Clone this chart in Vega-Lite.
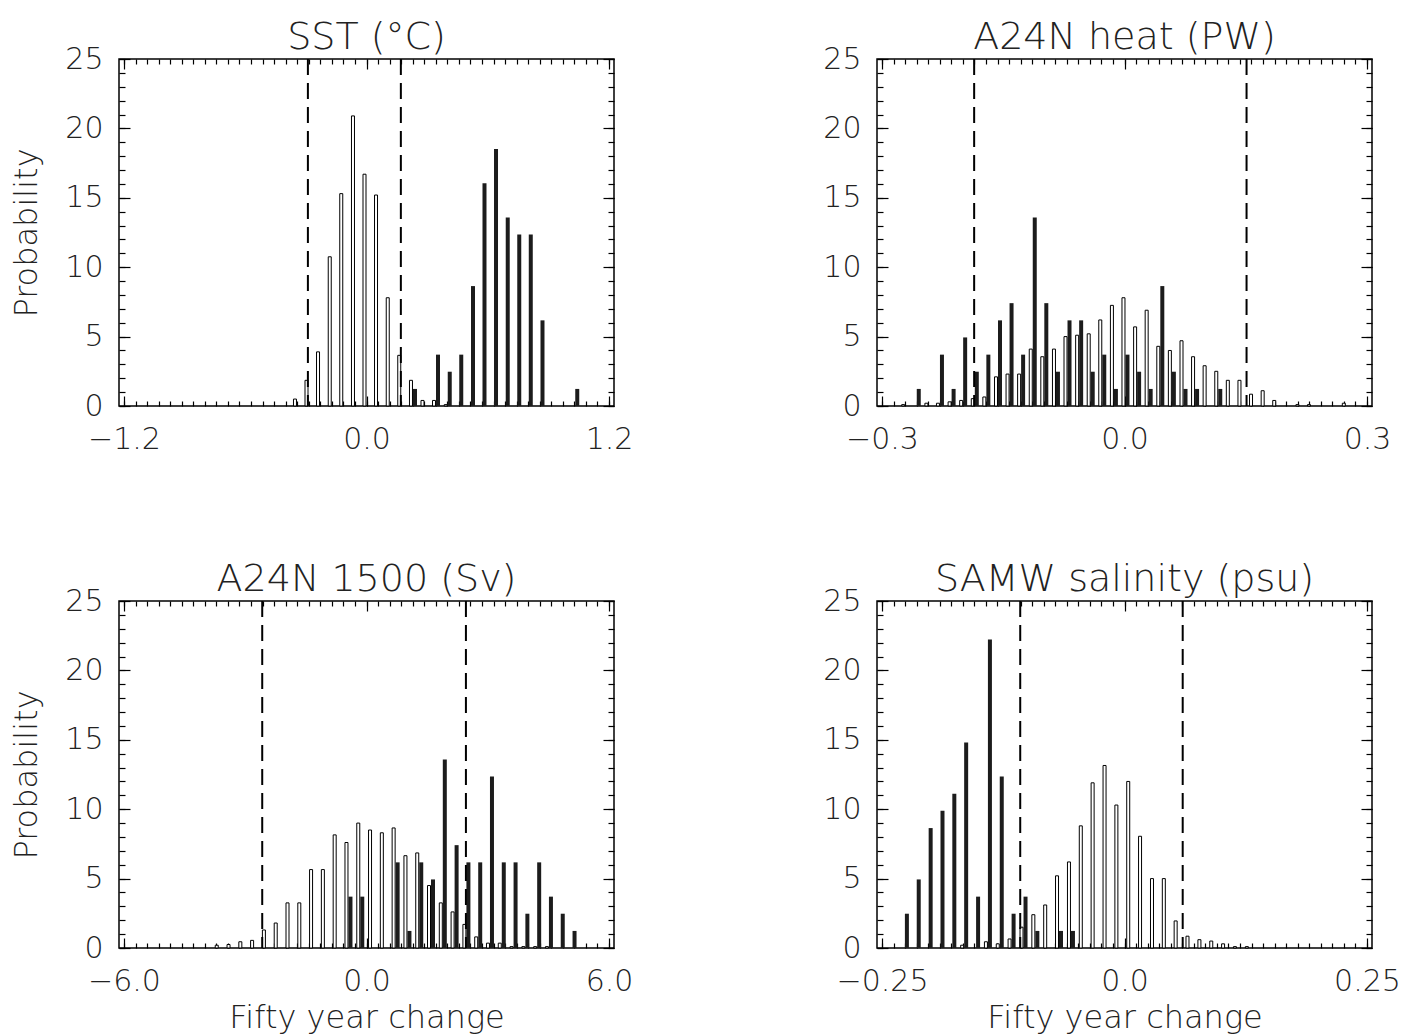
{
  "$schema": "https://vega.github.io/schema/vega-lite/v6.json",
  "autosize": {"type": "pad"},
  "padding": {"left": 10, "top": 18, "right": 5, "bottom": 0},
  "background": "white",
  "config": {
    "font": "DejaVu Sans",
    "view": {"stroke": "black", "strokeWidth": 1.5},
    "axis": {"domain": false, "grid": false, "tickColor": "black", "tickWidth": 1.2, "labelFont": "DejaVu Sans", "labelFontSize": 30, "labelFontWeight": 200, "labelColor": "#222", "titleFont": "DejaVu Sans", "titleFontSize": 32, "titleFontWeight": 200, "titleColor": "#222", "labelFlush": false, "labelOverlap": false},
    "title": {"font": "DejaVu Sans", "fontSize": 38, "fontWeight": 200, "color": "#222", "offset": -13, "anchor": "middle", "frame": "group"}
  },
  "datasets": {
    "sst": [
      {"x": -0.344, "kind": "control", "p": 0.5}, {"x": -0.287, "kind": "control", "p": 1.85}, {"x": -0.230, "kind": "control", "p": 3.9}, {"x": -0.172, "kind": "control", "p": 10.75}, {"x": -0.115, "kind": "control", "p": 15.3}, {"x": -0.057, "kind": "control", "p": 20.9}, {"x": 0.000, "kind": "control", "p": 16.7}, {"x": 0.057, "kind": "control", "p": 15.2}, {"x": 0.115, "kind": "control", "p": 7.8}, {"x": 0.172, "kind": "control", "p": 3.65}, {"x": 0.230, "kind": "control", "p": 1.85}, {"x": 0.287, "kind": "control", "p": 0.4}, {"x": 0.344, "kind": "control", "p": 0.4}, {"x": 0.402, "kind": "control", "p": 0.1},
      {"x": 0.230, "kind": "forced", "p": 1.23}, {"x": 0.344, "kind": "forced", "p": 3.70}, {"x": 0.402, "kind": "forced", "p": 2.47}, {"x": 0.459, "kind": "forced", "p": 3.70}, {"x": 0.517, "kind": "forced", "p": 8.64}, {"x": 0.574, "kind": "forced", "p": 16.05}, {"x": 0.631, "kind": "forced", "p": 18.52}, {"x": 0.689, "kind": "forced", "p": 13.58}, {"x": 0.746, "kind": "forced", "p": 12.35}, {"x": 0.803, "kind": "forced", "p": 12.35}, {"x": 0.861, "kind": "forced", "p": 6.17}, {"x": 1.033, "kind": "forced", "p": 1.23}
    ],
    "sst_lim": [{"x": -0.29}, {"x": 0.17}],
    "heat": [
      {"x": -0.2713, "kind": "control", "p": 0.1}, {"x": -0.2426, "kind": "control", "p": 0.2}, {"x": -0.2283, "kind": "control", "p": 0.2}, {"x": -0.2139, "kind": "control", "p": 0.3}, {"x": -0.1996, "kind": "control", "p": 0.4}, {"x": -0.1852, "kind": "control", "p": 0.53}, {"x": -0.1709, "kind": "control", "p": 0.65}, {"x": -0.1565, "kind": "control", "p": 2.1}, {"x": -0.1422, "kind": "control", "p": 2.3}, {"x": -0.1279, "kind": "control", "p": 2.3}, {"x": -0.1135, "kind": "control", "p": 4.1}, {"x": -0.0992, "kind": "control", "p": 3.55}, {"x": -0.0848, "kind": "control", "p": 4.1}, {"x": -0.0705, "kind": "control", "p": 5.0}, {"x": -0.0561, "kind": "control", "p": 5.1}, {"x": -0.0418, "kind": "control", "p": 5.2}, {"x": -0.0275, "kind": "control", "p": 6.2}, {"x": -0.0131, "kind": "control", "p": 7.25}, {"x": 0.0012, "kind": "control", "p": 7.8}, {"x": 0.0156, "kind": "control", "p": 5.7}, {"x": 0.0299, "kind": "control", "p": 6.9}, {"x": 0.0443, "kind": "control", "p": 4.3}, {"x": 0.0586, "kind": "control", "p": 4.0}, {"x": 0.0730, "kind": "control", "p": 4.7}, {"x": 0.0873, "kind": "control", "p": 3.55}, {"x": 0.1016, "kind": "control", "p": 2.9}, {"x": 0.1160, "kind": "control", "p": 2.5}, {"x": 0.1303, "kind": "control", "p": 1.85}, {"x": 0.1447, "kind": "control", "p": 1.85}, {"x": 0.1590, "kind": "control", "p": 0.85}, {"x": 0.1734, "kind": "control", "p": 1.1}, {"x": 0.1877, "kind": "control", "p": 0.4}, {"x": 0.2164, "kind": "control", "p": 0.1}, {"x": 0.2307, "kind": "control", "p": 0.1}, {"x": 0.2738, "kind": "control", "p": 0.2},
      {"x": -0.2570, "kind": "forced", "p": 1.23}, {"x": -0.2283, "kind": "forced", "p": 3.70}, {"x": -0.2139, "kind": "forced", "p": 1.23}, {"x": -0.1996, "kind": "forced", "p": 4.94}, {"x": -0.1852, "kind": "forced", "p": 2.47}, {"x": -0.1709, "kind": "forced", "p": 3.70}, {"x": -0.1565, "kind": "forced", "p": 6.17}, {"x": -0.1422, "kind": "forced", "p": 7.41}, {"x": -0.1279, "kind": "forced", "p": 3.70}, {"x": -0.1135, "kind": "forced", "p": 13.58}, {"x": -0.0992, "kind": "forced", "p": 7.41}, {"x": -0.0848, "kind": "forced", "p": 2.47}, {"x": -0.0705, "kind": "forced", "p": 6.17}, {"x": -0.0561, "kind": "forced", "p": 6.17}, {"x": -0.0418, "kind": "forced", "p": 2.47}, {"x": -0.0275, "kind": "forced", "p": 3.70}, {"x": -0.0131, "kind": "forced", "p": 1.23}, {"x": 0.0012, "kind": "forced", "p": 3.70}, {"x": 0.0156, "kind": "forced", "p": 2.47}, {"x": 0.0299, "kind": "forced", "p": 1.23}, {"x": 0.0443, "kind": "forced", "p": 8.64}, {"x": 0.0586, "kind": "forced", "p": 2.47}, {"x": 0.0730, "kind": "forced", "p": 1.23}, {"x": 0.0873, "kind": "forced", "p": 1.23}, {"x": 0.1160, "kind": "forced", "p": 1.23}
    ],
    "heat_lim": [{"x": -0.186}, {"x": 0.151}],
    "a1500": [
      {"x": -3.656, "kind": "control", "p": 0.2}, {"x": -3.364, "kind": "control", "p": 0.25}, {"x": -3.072, "kind": "control", "p": 0.45}, {"x": -2.781, "kind": "control", "p": 0.55}, {"x": -2.489, "kind": "control", "p": 1.3}, {"x": -2.197, "kind": "control", "p": 1.8}, {"x": -1.905, "kind": "control", "p": 3.25}, {"x": -1.613, "kind": "control", "p": 3.25}, {"x": -1.322, "kind": "control", "p": 5.65}, {"x": -1.030, "kind": "control", "p": 5.65}, {"x": -0.738, "kind": "control", "p": 8.15}, {"x": -0.446, "kind": "control", "p": 7.6}, {"x": -0.154, "kind": "control", "p": 9.0}, {"x": 0.137, "kind": "control", "p": 8.5}, {"x": 0.429, "kind": "control", "p": 8.3}, {"x": 0.721, "kind": "control", "p": 8.65}, {"x": 1.013, "kind": "control", "p": 6.65}, {"x": 1.305, "kind": "control", "p": 6.85}, {"x": 1.596, "kind": "control", "p": 4.5}, {"x": 1.888, "kind": "control", "p": 3.25}, {"x": 2.180, "kind": "control", "p": 2.6}, {"x": 2.472, "kind": "control", "p": 1.7}, {"x": 2.764, "kind": "control", "p": 0.8}, {"x": 3.055, "kind": "control", "p": 0.35}, {"x": 3.347, "kind": "control", "p": 0.35}, {"x": 3.639, "kind": "control", "p": 0.1}, {"x": 3.931, "kind": "control", "p": 0.1}, {"x": 4.223, "kind": "control", "p": 0.1}, {"x": 4.514, "kind": "control", "p": 0.1},
      {"x": -0.446, "kind": "forced", "p": 3.70}, {"x": -0.154, "kind": "forced", "p": 3.70}, {"x": 0.721, "kind": "forced", "p": 6.17}, {"x": 1.013, "kind": "forced", "p": 1.23}, {"x": 1.305, "kind": "forced", "p": 6.17}, {"x": 1.596, "kind": "forced", "p": 4.94}, {"x": 1.888, "kind": "forced", "p": 13.58}, {"x": 2.180, "kind": "forced", "p": 7.41}, {"x": 2.472, "kind": "forced", "p": 6.17}, {"x": 2.764, "kind": "forced", "p": 6.17}, {"x": 3.055, "kind": "forced", "p": 12.35}, {"x": 3.347, "kind": "forced", "p": 6.17}, {"x": 3.639, "kind": "forced", "p": 6.17}, {"x": 3.931, "kind": "forced", "p": 2.47}, {"x": 4.223, "kind": "forced", "p": 6.17}, {"x": 4.514, "kind": "forced", "p": 3.70}, {"x": 4.806, "kind": "forced", "p": 2.47}, {"x": 5.098, "kind": "forced", "p": 1.23}
    ],
    "a1500_lim": [{"x": -2.58}, {"x": 2.46}],
    "samw": [
      {"x": -0.1653, "kind": "control", "p": 0.2}, {"x": -0.1408, "kind": "control", "p": 0.45}, {"x": -0.1286, "kind": "control", "p": 0.3}, {"x": -0.1164, "kind": "control", "p": 0.65}, {"x": -0.1041, "kind": "control", "p": 1.5}, {"x": -0.0919, "kind": "control", "p": 2.4}, {"x": -0.0797, "kind": "control", "p": 3.1}, {"x": -0.0675, "kind": "control", "p": 5.2}, {"x": -0.0552, "kind": "control", "p": 6.2}, {"x": -0.0430, "kind": "control", "p": 8.8}, {"x": -0.0308, "kind": "control", "p": 11.9}, {"x": -0.0185, "kind": "control", "p": 13.15}, {"x": -0.0063, "kind": "control", "p": 10.3}, {"x": 0.0059, "kind": "control", "p": 12.0}, {"x": 0.0181, "kind": "control", "p": 8.05}, {"x": 0.0304, "kind": "control", "p": 5.0}, {"x": 0.0426, "kind": "control", "p": 5.0}, {"x": 0.0548, "kind": "control", "p": 1.95}, {"x": 0.0670, "kind": "control", "p": 0.85}, {"x": 0.0793, "kind": "control", "p": 0.6}, {"x": 0.0915, "kind": "control", "p": 0.5}, {"x": 0.1037, "kind": "control", "p": 0.3}, {"x": 0.1159, "kind": "control", "p": 0.1}, {"x": 0.1282, "kind": "control", "p": 0.1},
      {"x": -0.2264, "kind": "forced", "p": 2.47}, {"x": -0.2142, "kind": "forced", "p": 4.94}, {"x": -0.2019, "kind": "forced", "p": 8.64}, {"x": -0.1897, "kind": "forced", "p": 9.88}, {"x": -0.1775, "kind": "forced", "p": 11.11}, {"x": -0.1653, "kind": "forced", "p": 14.81}, {"x": -0.1530, "kind": "forced", "p": 3.70}, {"x": -0.1408, "kind": "forced", "p": 22.22}, {"x": -0.1286, "kind": "forced", "p": 12.35}, {"x": -0.1164, "kind": "forced", "p": 2.47}, {"x": -0.1041, "kind": "forced", "p": 3.70}, {"x": -0.0919, "kind": "forced", "p": 1.23}, {"x": -0.0675, "kind": "forced", "p": 1.23}, {"x": -0.0552, "kind": "forced", "p": 1.23}
    ],
    "samw_lim": [{"x": -0.1075}, {"x": 0.06}]
  },
  "columns": 2,
  "bounds": "flush",
  "spacing": {"row": 195, "column": 263},
  "concat": [
    {
      "width": 495, "height": 347,
      "title": "SST (°C)",
      "data": {"name": "sst"},
      "resolve": {"axis": {"x": "independent", "y": "independent"}},
      "layer": [
        {"transform": [{"filter": "datum.kind === 'forced'"}],
         "mark": {"type": "bar", "width": 4, "xOffset": 2, "fill": "#1c1c1c"},
         "encoding": {
           "x": {"field": "x", "type": "quantitative", "scale": {"domain": [-1.2, 1.2], "nice": false, "zero": false}, "axis": {"orient": "bottom", "values": [-1.2, 0, 1.2], "format": ".1f", "tickSize": -10, "labelPadding": 28, "title": null}},
           "y": {"field": "p", "type": "quantitative", "scale": {"domain": [0, 25], "nice": false}, "axis": {"orient": "left", "values": [0, 5, 10, 15, 20, 25], "tickSize": -11, "labelPadding": 27, "title": "Probability", "titlePadding": 21}}
         }},
        {"transform": [{"filter": "datum.kind === 'control'"}],
         "mark": {"type": "bar", "width": 3, "xOffset": -2, "fill": "white", "stroke": "black", "strokeWidth": 1},
         "encoding": {
           "x": {"field": "x", "type": "quantitative", "axis": {"orient": "bottom", "values": [-1.2, -1.1429, -1.0857, -1.0286, -0.9714, -0.9143, -0.8571, -0.8, -0.7429, -0.6857, -0.6286, -0.5714, -0.5143, -0.4571, -0.4, -0.3429, -0.2857, -0.2286, -0.1714, -0.1143, -0.0571, 0, 0.0571, 0.1143, 0.1714, 0.2286, 0.2857, 0.3429, 0.4, 0.4571, 0.5143, 0.5714, 0.6286, 0.6857, 0.7429, 0.8, 0.8571, 0.9143, 0.9714, 1.0286, 1.0857, 1.1429, 1.2], "tickSize": -5, "labels": false, "title": null}},
           "y": {"field": "p", "type": "quantitative", "axis": {"orient": "left", "values": [0,1,2,3,4,5,6,7,8,9,10,11,12,13,14,15,16,17,18,19,20,21,22,23,24,25], "tickSize": -6, "labels": false, "title": null}}
         }},
        {"data": {"name": "sst_lim"},
         "mark": {"type": "rule", "strokeDash": [16, 8], "strokeWidth": 2, "color": "black"},
         "encoding": {
           "x": {"field": "x", "type": "quantitative", "axis": {"orient": "top", "values": [-1.2, 0, 1.2], "tickSize": -10, "labels": false, "title": null}}
         }},
        {"transform": [{"filter": "datum.kind === 'control'"}],
         "mark": {"type": "point", "opacity": 0},
         "encoding": {
           "x": {"field": "x", "type": "quantitative", "axis": {"orient": "top", "values": [-1.2, -1.1429, -1.0857, -1.0286, -0.9714, -0.9143, -0.8571, -0.8, -0.7429, -0.6857, -0.6286, -0.5714, -0.5143, -0.4571, -0.4, -0.3429, -0.2857, -0.2286, -0.1714, -0.1143, -0.0571, 0, 0.0571, 0.1143, 0.1714, 0.2286, 0.2857, 0.3429, 0.4, 0.4571, 0.5143, 0.5714, 0.6286, 0.6857, 0.7429, 0.8, 0.8571, 0.9143, 0.9714, 1.0286, 1.0857, 1.1429, 1.2], "tickSize": -5, "labels": false, "title": null}},
           "y": {"field": "p", "type": "quantitative", "axis": {"orient": "right", "values": [0, 5, 10, 15, 20, 25], "tickSize": -11, "labels": false, "title": null}}
         }},
        {"transform": [{"filter": "datum.kind === 'control'"}],
         "mark": {"type": "point", "opacity": 0},
         "encoding": {
           "x": {"field": "x", "type": "quantitative", "axis": null},
           "y": {"field": "p", "type": "quantitative", "axis": {"orient": "right", "values": [0,1,2,3,4,5,6,7,8,9,10,11,12,13,14,15,16,17,18,19,20,21,22,23,24,25], "tickSize": -6, "labels": false, "title": null}}
         }}
      ]
    },
    {
      "width": 495, "height": 347,
      "title": "A24N heat (PW)",
      "data": {"name": "heat"},
      "resolve": {"axis": {"x": "independent", "y": "independent"}},
      "layer": [
        {"transform": [{"filter": "datum.kind === 'forced'"}],
         "mark": {"type": "bar", "width": 4, "xOffset": 2, "fill": "#1c1c1c"},
         "encoding": {
           "x": {"field": "x", "type": "quantitative", "scale": {"domain": [-0.3, 0.3], "nice": false, "zero": false}, "axis": {"orient": "bottom", "values": [-0.3, 0, 0.3], "format": ".1f", "tickSize": -10, "labelPadding": 28, "title": null}},
           "y": {"field": "p", "type": "quantitative", "scale": {"domain": [0, 25], "nice": false}, "axis": {"orient": "left", "values": [0, 5, 10, 15, 20, 25], "tickSize": -11, "labelPadding": 27, "title": null}}
         }},
        {"transform": [{"filter": "datum.kind === 'control'"}],
         "mark": {"type": "bar", "width": 3, "xOffset": -2, "fill": "white", "stroke": "black", "strokeWidth": 1},
         "encoding": {
           "x": {"field": "x", "type": "quantitative", "axis": {"orient": "bottom", "values": [-0.3, -0.2857, -0.2714, -0.2571, -0.2429, -0.2286, -0.2143, -0.2, -0.1857, -0.1714, -0.1571, -0.1429, -0.1286, -0.1143, -0.1, -0.0857, -0.0714, -0.0571, -0.0429, -0.0286, -0.0143, 0, 0.0143, 0.0286, 0.0429, 0.0571, 0.0714, 0.0857, 0.1, 0.1143, 0.1286, 0.1429, 0.1571, 0.1714, 0.1857, 0.2, 0.2143, 0.2286, 0.2429, 0.2571, 0.2714, 0.2857, 0.3], "tickSize": -5, "labels": false, "title": null}},
           "y": {"field": "p", "type": "quantitative", "axis": {"orient": "left", "values": [0,1,2,3,4,5,6,7,8,9,10,11,12,13,14,15,16,17,18,19,20,21,22,23,24,25], "tickSize": -6, "labels": false, "title": null}}
         }},
        {"data": {"name": "heat_lim"},
         "mark": {"type": "rule", "strokeDash": [16, 8], "strokeWidth": 2, "color": "black"},
         "encoding": {
           "x": {"field": "x", "type": "quantitative", "axis": {"orient": "top", "values": [-0.3, 0, 0.3], "tickSize": -10, "labels": false, "title": null}}
         }},
        {"transform": [{"filter": "datum.kind === 'control'"}],
         "mark": {"type": "point", "opacity": 0},
         "encoding": {
           "x": {"field": "x", "type": "quantitative", "axis": {"orient": "top", "values": [-0.3, -0.2857, -0.2714, -0.2571, -0.2429, -0.2286, -0.2143, -0.2, -0.1857, -0.1714, -0.1571, -0.1429, -0.1286, -0.1143, -0.1, -0.0857, -0.0714, -0.0571, -0.0429, -0.0286, -0.0143, 0, 0.0143, 0.0286, 0.0429, 0.0571, 0.0714, 0.0857, 0.1, 0.1143, 0.1286, 0.1429, 0.1571, 0.1714, 0.1857, 0.2, 0.2143, 0.2286, 0.2429, 0.2571, 0.2714, 0.2857, 0.3], "tickSize": -5, "labels": false, "title": null}},
           "y": {"field": "p", "type": "quantitative", "axis": {"orient": "right", "values": [0, 5, 10, 15, 20, 25], "tickSize": -11, "labels": false, "title": null}}
         }},
        {"transform": [{"filter": "datum.kind === 'control'"}],
         "mark": {"type": "point", "opacity": 0},
         "encoding": {
           "x": {"field": "x", "type": "quantitative", "axis": null},
           "y": {"field": "p", "type": "quantitative", "axis": {"orient": "right", "values": [0,1,2,3,4,5,6,7,8,9,10,11,12,13,14,15,16,17,18,19,20,21,22,23,24,25], "tickSize": -6, "labels": false, "title": null}}
         }}
      ]
    },
    {
      "width": 495, "height": 347,
      "title": "A24N 1500 (Sv)",
      "data": {"name": "a1500"},
      "resolve": {"axis": {"x": "independent", "y": "independent"}},
      "layer": [
        {"transform": [{"filter": "datum.kind === 'forced'"}],
         "mark": {"type": "bar", "width": 4, "xOffset": 2, "fill": "#1c1c1c"},
         "encoding": {
           "x": {"field": "x", "type": "quantitative", "scale": {"domain": [-6, 6], "nice": false, "zero": false}, "axis": {"orient": "bottom", "values": [-6, 0, 6], "format": ".1f", "tickSize": -10, "labelPadding": 28, "title": "Fifty year change", "titlePadding": 6}},
           "y": {"field": "p", "type": "quantitative", "scale": {"domain": [0, 25], "nice": false}, "axis": {"orient": "left", "values": [0, 5, 10, 15, 20, 25], "tickSize": -11, "labelPadding": 27, "title": "Probability", "titlePadding": 21}}
         }},
        {"transform": [{"filter": "datum.kind === 'control'"}],
         "mark": {"type": "bar", "width": 3, "xOffset": -2, "fill": "white", "stroke": "black", "strokeWidth": 1},
         "encoding": {
           "x": {"field": "x", "type": "quantitative", "axis": {"orient": "bottom", "values": [-6, -5.7143, -5.4286, -5.1429, -4.8571, -4.5714, -4.2857, -4, -3.7143, -3.4286, -3.1429, -2.8571, -2.5714, -2.2857, -2, -1.7143, -1.4286, -1.1429, -0.8571, -0.5714, -0.2857, 0, 0.2857, 0.5714, 0.8571, 1.1429, 1.4286, 1.7143, 2, 2.2857, 2.5714, 2.8571, 3.1429, 3.4286, 3.7143, 4, 4.2857, 4.5714, 4.8571, 5.1429, 5.4286, 5.7143, 6], "tickSize": -5, "labels": false, "title": null}},
           "y": {"field": "p", "type": "quantitative", "axis": {"orient": "left", "values": [0,1,2,3,4,5,6,7,8,9,10,11,12,13,14,15,16,17,18,19,20,21,22,23,24,25], "tickSize": -6, "labels": false, "title": null}}
         }},
        {"data": {"name": "a1500_lim"},
         "mark": {"type": "rule", "strokeDash": [16, 8], "strokeWidth": 2, "color": "black"},
         "encoding": {
           "x": {"field": "x", "type": "quantitative", "axis": {"orient": "top", "values": [-6, 0, 6], "tickSize": -10, "labels": false, "title": null}}
         }},
        {"transform": [{"filter": "datum.kind === 'control'"}],
         "mark": {"type": "point", "opacity": 0},
         "encoding": {
           "x": {"field": "x", "type": "quantitative", "axis": {"orient": "top", "values": [-6, -5.7143, -5.4286, -5.1429, -4.8571, -4.5714, -4.2857, -4, -3.7143, -3.4286, -3.1429, -2.8571, -2.5714, -2.2857, -2, -1.7143, -1.4286, -1.1429, -0.8571, -0.5714, -0.2857, 0, 0.2857, 0.5714, 0.8571, 1.1429, 1.4286, 1.7143, 2, 2.2857, 2.5714, 2.8571, 3.1429, 3.4286, 3.7143, 4, 4.2857, 4.5714, 4.8571, 5.1429, 5.4286, 5.7143, 6], "tickSize": -5, "labels": false, "title": null}},
           "y": {"field": "p", "type": "quantitative", "axis": {"orient": "right", "values": [0, 5, 10, 15, 20, 25], "tickSize": -11, "labels": false, "title": null}}
         }},
        {"transform": [{"filter": "datum.kind === 'control'"}],
         "mark": {"type": "point", "opacity": 0},
         "encoding": {
           "x": {"field": "x", "type": "quantitative", "axis": null},
           "y": {"field": "p", "type": "quantitative", "axis": {"orient": "right", "values": [0,1,2,3,4,5,6,7,8,9,10,11,12,13,14,15,16,17,18,19,20,21,22,23,24,25], "tickSize": -6, "labels": false, "title": null}}
         }}
      ]
    },
    {
      "width": 495, "height": 347,
      "title": "SAMW salinity (psu)",
      "data": {"name": "samw"},
      "resolve": {"axis": {"x": "independent", "y": "independent"}},
      "layer": [
        {"transform": [{"filter": "datum.kind === 'forced'"}],
         "mark": {"type": "bar", "width": 4, "xOffset": 2, "fill": "#1c1c1c"},
         "encoding": {
           "x": {"field": "x", "type": "quantitative", "scale": {"domain": [-0.25, 0.25], "nice": false, "zero": false}, "axis": {"orient": "bottom", "values": [-0.25, 0, 0.25], "labelExpr": "datum.value === 0 ? '0.0' : format(datum.value, '.2f')", "tickSize": -10, "labelPadding": 28, "title": "Fifty year change", "titlePadding": 6}},
           "y": {"field": "p", "type": "quantitative", "scale": {"domain": [0, 25], "nice": false}, "axis": {"orient": "left", "values": [0, 5, 10, 15, 20, 25], "tickSize": -11, "labelPadding": 27, "title": null}}
         }},
        {"transform": [{"filter": "datum.kind === 'control'"}],
         "mark": {"type": "bar", "width": 3, "xOffset": -2, "fill": "white", "stroke": "black", "strokeWidth": 1},
         "encoding": {
           "x": {"field": "x", "type": "quantitative", "axis": {"orient": "bottom", "values": [-0.25, -0.2381, -0.2262, -0.2143, -0.2024, -0.1905, -0.1786, -0.1667, -0.1548, -0.1429, -0.131, -0.119, -0.1071, -0.0952, -0.0833, -0.0714, -0.0595, -0.0476, -0.0357, -0.0238, -0.0119, 0, 0.0119, 0.0238, 0.0357, 0.0476, 0.0595, 0.0714, 0.0833, 0.0952, 0.1071, 0.119, 0.131, 0.1429, 0.1548, 0.1667, 0.1786, 0.1905, 0.2024, 0.2143, 0.2262, 0.2381, 0.25], "tickSize": -5, "labels": false, "title": null}},
           "y": {"field": "p", "type": "quantitative", "axis": {"orient": "left", "values": [0,1,2,3,4,5,6,7,8,9,10,11,12,13,14,15,16,17,18,19,20,21,22,23,24,25], "tickSize": -6, "labels": false, "title": null}}
         }},
        {"data": {"name": "samw_lim"},
         "mark": {"type": "rule", "strokeDash": [16, 8], "strokeWidth": 2, "color": "black"},
         "encoding": {
           "x": {"field": "x", "type": "quantitative", "axis": {"orient": "top", "values": [-0.25, 0, 0.25], "tickSize": -10, "labels": false, "title": null}}
         }},
        {"transform": [{"filter": "datum.kind === 'control'"}],
         "mark": {"type": "point", "opacity": 0},
         "encoding": {
           "x": {"field": "x", "type": "quantitative", "axis": {"orient": "top", "values": [-0.25, -0.2381, -0.2262, -0.2143, -0.2024, -0.1905, -0.1786, -0.1667, -0.1548, -0.1429, -0.131, -0.119, -0.1071, -0.0952, -0.0833, -0.0714, -0.0595, -0.0476, -0.0357, -0.0238, -0.0119, 0, 0.0119, 0.0238, 0.0357, 0.0476, 0.0595, 0.0714, 0.0833, 0.0952, 0.1071, 0.119, 0.131, 0.1429, 0.1548, 0.1667, 0.1786, 0.1905, 0.2024, 0.2143, 0.2262, 0.2381, 0.25], "tickSize": -5, "labels": false, "title": null}},
           "y": {"field": "p", "type": "quantitative", "axis": {"orient": "right", "values": [0, 5, 10, 15, 20, 25], "tickSize": -11, "labels": false, "title": null}}
         }},
        {"transform": [{"filter": "datum.kind === 'control'"}],
         "mark": {"type": "point", "opacity": 0},
         "encoding": {
           "x": {"field": "x", "type": "quantitative", "axis": null},
           "y": {"field": "p", "type": "quantitative", "axis": {"orient": "right", "values": [0,1,2,3,4,5,6,7,8,9,10,11,12,13,14,15,16,17,18,19,20,21,22,23,24,25], "tickSize": -6, "labels": false, "title": null}}
         }}
      ]
    }
  ]
}
